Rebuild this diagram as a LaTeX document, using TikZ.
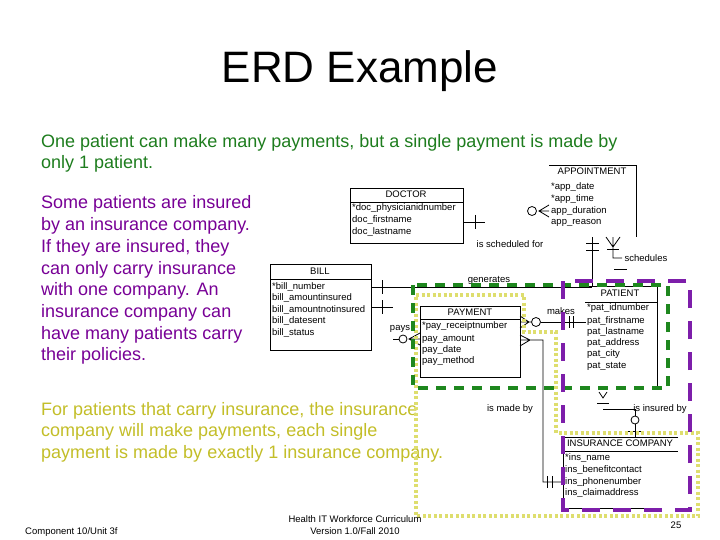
\documentclass[tikz,border=0pt]{standalone}
\usepackage{fontspec}
\setmainfont{Liberation Sans}
\definecolor{tgreen}{RGB}{30,125,30}
\definecolor{tpurple}{RGB}{120,0,150}
\definecolor{tyellow}{RGB}{195,190,40}
\definecolor{fgreen}{RGB}{30,135,30}
\definecolor{fpurple}{RGB}{125,30,170}
\definecolor{fyellow}{RGB}{222,222,110}
\begin{document}
\begin{tikzpicture}[x=1pt,y=-1pt,
  erd/.style={font=\fontsize{9.5}{11}\selectfont, inner sep=0pt},
  att/.style={erd, anchor=base west},
  hdr/.style={erd, anchor=base},
  ln/.style={line width=0.8pt},
  ebox/.style={draw, ln, inner sep=0pt, anchor=north west},
  body/.style={font=\fontsize{18}{21.5}\selectfont, inner sep=0pt, anchor=base west},
  foot/.style={font=\fontsize{9.5}{11}\selectfont, inner sep=0pt, anchor=base},
  gframe/.style={draw=fgreen, line width=4pt, dash pattern=on 10pt off 8pt},
  yframe/.style={draw=fyellow, line width=4pt, dash pattern=on 3pt off 2.5pt},
  pframe/.style={draw=fpurple, line width=4pt, dash pattern=on 18pt off 13pt}]
\useasboundingbox (0,0) rectangle (720,540);
\fill[white] (0,0) rectangle (720,540);

% title
\node[font=\fontsize{44}{50}\selectfont, inner sep=0pt, anchor=base] (title) at (360,83) {ERD Example};

% text blocks
\node[body, text=tgreen] (a1) at (41,147.5) {One patient can make many payments, but a single payment is made by};
\node[body, text=tgreen] (a2) at (41,168.5) {only 1 patient.};
\foreach \t [count=\i] in {Some patients are insured, by an insurance company., {If they are insured, they}, can only carry insurance, with one company. An, insurance company can, have many patients carry, their policies.}
  \node[body, text=tpurple] (b\i) at (41,{209+(\i-1)*21.7}) {\t};
\node[body, text=tyellow] (c1) at (41,415) {For patients that carry insurance, the insurance};
\node[body, text=tyellow] (c2) at (41,436.5) {company will make payments, each single};
\node[body, text=tyellow] (c3) at (41,458) {payment is made by exactly 1 insurance company.};

% DOCTOR
\node[ebox, minimum width=113pt, minimum height=55pt] (doctor) at (350,188) {};
\draw[ln] (350,202) -- (463,202);
\node[hdr] (doctorh) at (406,197.5) {DOCTOR};
\foreach \t/\y [count=\i] in {*doc\_physicianidnumber/210.5, doc\_firstname/222.5, doc\_lastname/234.5}
  \node[att] (d\i) at (352,\y) {\t};
\coordinate (dc) at (485,222);
\draw[ln] (doctor.east |- dc) -- (dc);
\draw[ln] (475,215) -- (475,229);
\node[hdr] (l1) at (510,247.5) {is scheduled for};

% APPOINTMENT (partly hidden)
\coordinate (ap1) at (549,165);
\coordinate (ap2) at (636,165);
\coordinate (ap3) at (636,237);
\draw[ln] (ap1) -- (ap2) -- (ap3);
\node[hdr] (apph) at (592,174.5) {APPOINTMENT};
\foreach \t/\y [count=\i] in {*app\_date/189.5, *app\_time/201.5, app\_duration/213.5, app\_reason/224.5}
  \node[att] (ap\i t) at (551,\y) {\t};
\node[circle, draw, ln, minimum size=9pt, inner sep=0pt] (cap) at (532,211) {};
\draw[ln] (549,205) -- (539,211) -- (549,217) (539,211) -- (549,211);

% lines below APPOINTMENT
\coordinate (sv) at (592,237);
\coordinate (bj) at (592,287);
\draw[ln] (sv) -- (bj);
\draw[ln] (586,243) -- (599,243) (586,250) -- (599,250);
\draw[ln] (606,237) -- (613,247) -- (620,237) (613,237) -- (613,258) -- (622,258);
\draw[ln] (607,249) -- (619,249);
\draw[ln] (614,269) -- (627,269);
\node[hdr] (l2) at (646,261.5) {schedules};

% BILL
\node[ebox, minimum width=101pt, minimum height=86pt] (bill) at (270,264) {};
\draw[ln] (270,279) -- (371,279);
\node[hdr] (billh) at (320,274.5) {BILL};
\foreach \t/\y [count=\i] in {*bill\_number/289.5, bill\_amountinsured/300.5, bill\_amountnotinsured/312.5, bill\_datesent/323.5, bill\_status/335.5}
  \node[att] (b\i t) at (272,\y) {\t};
\draw[ln] (bill.east |- bj) -- (bj);
\draw[ln] (382,280) -- (382,294);
\node[hdr] (l3) at (489,282.5) {generates};
\coordinate (bp) at (393,307);
\draw[ln] (bill.east |- bp) -- (bp);
\draw[ln] (382,300) -- (382,314);
\node[hdr] (l4) at (400,330.5) {pays};

% PAYMENT
\node[ebox, minimum width=100pt, minimum height=71pt] (payment) at (420,306) {};
\draw[ln] (420,319) -- (520,319);
\node[hdr] (payh) at (470,315.5) {PAYMENT};
\foreach \t/\y [count=\i] in {*pay\_receiptnumber/328.5, pay\_amount/341.5, pay\_date/352.5, pay\_method/363.5}
  \node[att] (p\i t) at (422,\y) {\t};
% pays connector end
\node[circle, draw, ln, minimum size=8pt, inner sep=0pt] (cpy) at (403,339) {};
\draw[ln] (393,339) -- (cpy.west);
\draw[ln] (420,333) -- (409,339) -- (420,345) (409,339) -- (420,339);
% makes connector
\node[circle, draw, ln, minimum size=9pt, inner sep=0pt] (cmk) at (536,322) {};
\draw[ln] (520,316) -- (529,322) -- (520,328) (520,322) -- (cmk.west);
\coordinate (pt) at (586,322);
\draw[ln] (cmk.east) -- (pt);
\draw[ln] (569,316) -- (569,328) (573,316) -- (573,328);
\node[hdr] (l5) at (561,314.5) {makes};
% is made by connector
\coordinate (mb1) at (543,340);
\coordinate (mb2) at (543,482);
\coordinate (mb3) at (563,482);
\draw[ln] (520,335) -- (530,340) -- (520,346) (520,340) -- (mb1) -- (mb2) -- (mb3);
\draw[ln] (547,476) -- (547,488) (552,476) -- (552,488);
\node[hdr] (l6) at (510,411.5) {is made by};

% PATIENT (partly hidden)
\coordinate (pa1) at (585,286);
\coordinate (pa2) at (657,286);
\coordinate (pa3) at (657,387);
\draw[ln] (pa1) -- (pa2) -- (pa3);
\draw[ln] (585,302) -- (657,302);
\node[hdr] (path) at (620,296.5) {PATIENT};
\foreach \t/\y [count=\i] in {*pat\_idnumber/310.5, pat\_firstname/323.5, pat\_lastname/334.5, pat\_address/345.5, pat\_city/356.5, pat\_state/368.5}
  \node[att] (pa\i t) at (587,\y) {\t};
% is insured by connector
\draw[ln] (599,392) -- (603,398) -- (607,392);
\draw[ln] (597,403) -- (609,403);
\coordinate (ib1) at (603,409);
\coordinate (ib2) at (635,409);
\draw[ln] (ib1) -- (ib2);
\node[circle, draw, ln, minimum size=8pt, inner sep=0pt] (cib) at (635,420) {};
\draw[ln] (ib2) -- (cib.north);
\coordinate (ib3) at (635,437);
\draw[ln] (cib.south) -- (ib3);
\draw[ln] (628,431) -- (642,431);
\node[hdr] (l7) at (660,411.5) {is insured by};

% INSURANCE COMPANY (partly hidden)
\draw[ln] (678,437) -- (563,437) -- (563,508) -- (650,508);
\draw[ln] (563,451) -- (678,451);
\node[hdr] (insh) at (620,446.5) {INSURANCE COMPANY};
\foreach \t/\y [count=\i] in {*ins\_name/460.5, ins\_benefitcontact/472.5, ins\_phonenumber/484.5, ins\_claimaddress/495.5}
  \node[att] (in\i t) at (565,\y) {\t};

% highlight frames
\draw[yframe] (416,295) -- (524,295) -- (524,332) -- (556,332) -- (556,433) -- (698,433) -- (698,516) -- (416,516) -- cycle;
\draw[gframe] (413,285) rectangle (668,388);
\draw[pframe] (563,281) rectangle (690,510);

% footer
\node[foot, anchor=base west] (f1) at (25,534) {Component 10/Unit 3f};
\node[foot] (f2) at (355,522.5) {Health IT Workforce Curriculum};
\node[foot] (f3) at (355,534.5) {Version 1.0/Fall 2010};
\node[foot] (f4) at (676,528.5) {25};
\end{tikzpicture}
\end{document}
